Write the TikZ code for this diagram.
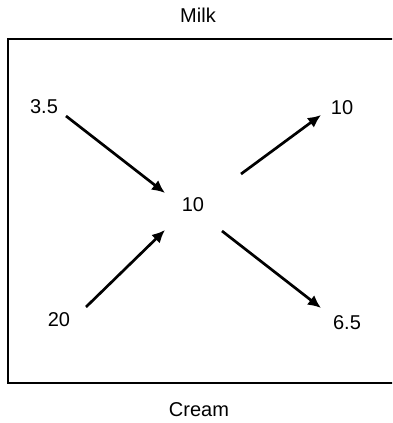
\documentclass[tikz,border=0pt]{standalone}
\usepackage{fontspec}
\setmainfont{Liberation Sans}
\usetikzlibrary{arrows.meta}

\tikzset{
  flowlabel/.style={font=\fontsize{20}{24}\selectfont, inner sep=0pt},
  flowarrow/.style={line width=2.7pt, -{Latex[length=13pt,width=12pt]}}
}

\begin{document}
\begin{tikzpicture}[x=1pt, y=-1pt]
            \useasboundingbox (0,0) rectangle (392,423);
            \clip (0,0) rectangle (392,423);

            % Draw the box (its right side runs off the picture)
            \draw[line width=2.2pt] (395,39) -- (8,39) -- (8,383) -- (395,383);

            % Label the two streams
            \node[flowlabel] (milk) at (198,15) {Milk};
            \node[flowlabel] (cream) at (199,410) {Cream};

            % Numbers
            \node[flowlabel] (inmilk) at (44,107) {3.5};
            \node[flowlabel] (outmilk) at (342,108) {10};
            \node[flowlabel] (mid) at (193,205) {10};
            \node[flowlabel] (incream) at (59,320) {20};
            \node[flowlabel] (outcream) at (347,323) {6.5};

            % Arrow end points
            \coordinate (a1) at (66,116);
            \coordinate (a2) at (165,193);
            \coordinate (b1) at (86,307);
            \coordinate (b2) at (165,230);
            \coordinate (c1) at (241,174);
            \coordinate (c2) at (321,115);
            \coordinate (d1) at (222,231);
            \coordinate (d2) at (321,308);

            % Draw the arrows
            \draw[flowarrow] (a1) -- (a2);
            \draw[flowarrow] (b1) -- (b2);
            \draw[flowarrow] (c1) -- (c2);
            \draw[flowarrow] (d1) -- (d2);
        \end{tikzpicture}
\end{document}
